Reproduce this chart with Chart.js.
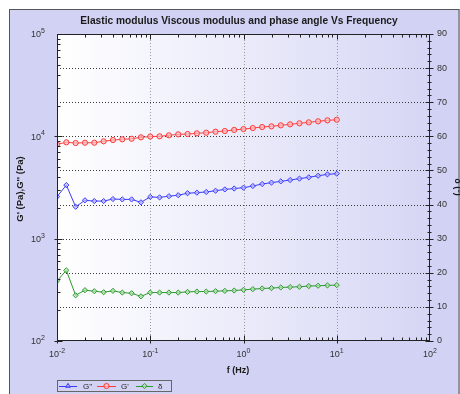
<!DOCTYPE html>
<html>
<head>
<meta charset="utf-8">
<script src="https://cdn.jsdelivr.net/npm/chart.js@4/dist/chart.umd.min.js"></script>
<style>
  html, body { margin: 0; padding: 0; background: #fff; overflow: hidden; }
  #wrap { position: relative; width: 460px; height: 394px; }
</style>
</head>
<body>
<div id="wrap"><canvas id="c" width="460" height="394"></canvas></div>
<script>
// Frequency sweep, 10 points per decade (Hz)
const frequency = [0.01, 0.01259, 0.01585, 0.01995, 0.02512, 0.03162, 0.03981, 0.05012, 0.0631, 0.07943,
  0.1, 0.1259, 0.1585, 0.1995, 0.2512, 0.3162, 0.3981, 0.5012, 0.631, 0.7943,
  1, 1.259, 1.585, 1.995, 2.512, 3.162, 3.981, 5.012, 6.31, 7.943, 10];

// Viscous (loss) modulus G'' (Pa)
const lossModulus = [2570, 3340, 2050, 2370, 2330, 2330, 2440, 2420, 2420, 2265,
  2560, 2530, 2600, 2660, 2780, 2815, 2860, 2940, 3030, 3090,
  3150, 3270, 3420, 3530, 3630, 3740, 3860, 3975, 4120, 4250, 4320];

// Elastic (storage) modulus G' (Pa)
const storageModulus = [8350, 8740, 8600, 8660, 8660, 8940, 9200, 9350, 9470, 9780,
  9950, 10000, 10230, 10460, 10530, 10700, 10850, 11100, 11270, 11550,
  11780, 12050, 12330, 12520, 12810, 13100, 13400, 13700, 14020, 14330, 14530];

// Phase angle δ (degrees)
const phaseAngle = [17.6, 20.7, 13.4, 14.9, 14.6, 14.3, 14.7, 14.2, 14.0, 13.1,
  14.2, 14.2, 14.2, 14.2, 14.4, 14.5, 14.5, 14.6, 14.7, 14.8,
  15.0, 15.2, 15.4, 15.5, 15.7, 15.8, 15.9, 16.1, 16.2, 16.3, 16.4];

const seriesLabels = ["G''", "G'", "δ"];
const xDecades = [0.01, 0.1, 1, 10, 100];
const yDecades = [100, 1000, 10000, 100000];
const phaseTicks = [0, 10, 20, 30, 40, 50, 60, 70, 80, 90];

const chartTitle = 'Elastic modulus Viscous modulus and phase angle Vs Frequency';
const xTitle = 'f (Hz)';
const yTitle = "G' (Pa),G'' (Pa)";
const y2Title = 'δ (°)';

const FONT = '"Liberation Sans", Arial, sans-serif';
const FRAME_FILL = '#d2d2f4';

function pts(ys) { return frequency.map((f, i) => ({ x: f, y: ys[i] })); }

const hidden = (dir) => ({
  display: true,
  ticks: { display: false },
  grid: { display: false, drawTicks: false },
  border: { display: false },
  afterFit: (s) => { if (dir === 'h') s.height = 0; else s.width = 0; }
});

// draws "10" with a raised exponent; align: 'right' | 'center'
function powerLabel(ctx, exp, x, y, align) {
  ctx.font = '9px ' + FONT;
  const base = '10';
  const bw = ctx.measureText(base).width;
  ctx.font = '7px ' + FONT;
  const e = String(exp);
  const ew = ctx.measureText(e).width;
  const total = bw + ew;
  const left = align === 'right' ? x - total : x - total / 2;
  ctx.textAlign = 'left';
  ctx.textBaseline = 'middle';
  ctx.font = '9px ' + FONT;
  ctx.fillText(base, left, y);
  ctx.font = '7px ' + FONT;
  ctx.fillText(e, left + bw, y - 4);
}

const decorPlugin = {
  id: 'decor',
  beforeDraw(chart) {
    const ctx = chart.ctx;
    const a = chart.chartArea;
    ctx.save();
    ctx.fillStyle = '#ffffff';
    ctx.fillRect(0, 0, chart.width, chart.height);
    // outer frame
    ctx.fillStyle = FRAME_FILL;
    ctx.fillRect(9, 9, 460, 400);
    ctx.strokeStyle = '#555';
    ctx.lineWidth = 1;
    ctx.strokeRect(9.5, 9.5, 449.5, 400);
    // plot area gradient
    const g = ctx.createLinearGradient(a.left, 0, a.right, 0);
    g.addColorStop(0, '#ffffff');
    g.addColorStop(1, '#d6d6f5');
    ctx.fillStyle = g;
    ctx.fillRect(a.left, a.top, a.right - a.left, a.bottom - a.top);
    ctx.restore();
  },
  beforeDatasetsDraw(chart) {
    const ctx = chart.ctx;
    const a = chart.chartArea;
    const sx = chart.scales.x, sy2 = chart.scales.y2;
    ctx.save();
    ctx.lineWidth = 1;
    ctx.setLineDash([1, 2]);
    ctx.strokeStyle = '#9a9a9a';
    xDecades.slice(1, -1).forEach(v => {
      const px = Math.round(sx.getPixelForValue(v)) + 0.5;
      ctx.beginPath(); ctx.moveTo(px, a.top); ctx.lineTo(px, a.bottom); ctx.stroke();
    });
    ctx.strokeStyle = '#3a3a3a';
    phaseTicks.slice(1, -1).forEach(v => {
      const py = Math.round(sy2.getPixelForValue(v)) + 0.5;
      ctx.beginPath(); ctx.moveTo(a.left, py); ctx.lineTo(a.right, py); ctx.stroke();
    });
    ctx.restore();
  },
  afterDatasetsDraw(chart) {
    const ctx = chart.ctx;
    const a = chart.chartArea;
    const sx = chart.scales.x, sy = chart.scales.y, sy2 = chart.scales.y2;
    const L = Math.round(a.left) + 0.5, R = Math.round(a.right) - 0.5;
    const T = Math.round(a.top) + 0.5, B = Math.round(a.bottom) - 0.5;
    ctx.save();
    ctx.setLineDash([]);
    ctx.strokeStyle = '#222';
    ctx.lineWidth = 1;
    ctx.strokeRect(L, T, R - L, B - T);

    ctx.beginPath();
    // x ticks (bottom and top, pointing inwards)
    for (let d = 0.01; d < 100; d *= 10) {
      for (let m = 1; m <= 9; m++) {
        const px = Math.round(sx.getPixelForValue(d * m)) + 0.5;
        const major = m === 1;
        ctx.moveTo(px, B + (major ? 3 : 0)); ctx.lineTo(px, B - (major ? 5 : 3));
        ctx.moveTo(px, T); ctx.lineTo(px, T + (major ? 5 : 3));
      }
    }
    // left log ticks
    for (let d = 100; d < 100000; d *= 10) {
      for (let m = 1; m <= 9; m++) {
        const py = Math.round(sy.getPixelForValue(d * m)) + 0.5;
        const major = m === 1;
        ctx.moveTo(L - (major ? 3 : 0), py); ctx.lineTo(L + (major ? 5 : 3), py);
      }
    }
    // right phase ticks
    for (let v = 0; v <= 90; v += 2) {
      const py = Math.round(sy2.getPixelForValue(v)) + 0.5;
      const major = v % 10 === 0;
      ctx.moveTo(R - (major ? 4 : 2), py); ctx.lineTo(R + (major ? 4 : 2), py);
    }
    ctx.stroke();

    // tick labels
    ctx.fillStyle = '#333';
    yDecades.forEach(v => {
      powerLabel(ctx, Math.round(Math.log10(v)), 45, sy.getPixelForValue(v) + 1, 'right');
    });
    xDecades.forEach(v => {
      powerLabel(ctx, Math.round(Math.log10(v)), sx.getPixelForValue(v), 355, 'center');
    });
    ctx.font = '9px ' + FONT;
    ctx.textAlign = 'left';
    ctx.textBaseline = 'middle';
    phaseTicks.forEach(v => {
      ctx.fillText(String(v), 437, sy2.getPixelForValue(v));
    });

    // titles
    ctx.fillStyle = '#1a1a1a';
    ctx.font = 'bold 10.2px ' + FONT;
    ctx.textAlign = 'center';
    ctx.fillText(chartTitle, 239, 21);
    ctx.font = 'bold 9px ' + FONT;
    ctx.fillText(xTitle, 238, 371);
    ctx.save();
    ctx.translate(20, 189);
    ctx.rotate(-Math.PI / 2);
    ctx.font = 'bold 9.5px ' + FONT;
    ctx.fillText(yTitle, 0, 0);
    ctx.restore();
    ctx.save();
    ctx.translate(457, 187);
    ctx.rotate(Math.PI / 2);
    ctx.fillText(y2Title, 0, 0);
    ctx.restore();

    // legend
    ctx.fillStyle = FRAME_FILL;
    ctx.fillRect(57.5, 380.5, 114, 11);
    ctx.strokeStyle = '#666';
    ctx.strokeRect(57.5, 380.5, 114, 11);
    const slots = [[59, 77, 83], [97, 116, 121], [136, 153, 158]];
    chart.data.datasets.forEach((ds, i) => {
      const [x0, x1, tx] = slots[i];
      const yy = 386.5;
      ctx.strokeStyle = ds.borderColor;
      ctx.lineWidth = 1;
      ctx.beginPath(); ctx.moveTo(x0, yy); ctx.lineTo(x1, yy); ctx.stroke();
      ctx.fillStyle = ds.backgroundColor;
      ctx.strokeStyle = ds.borderColor;
      Chart.helpers.drawPoint(ctx, {
        pointStyle: ds.legendMarker, radius: 2.6, borderWidth: 1, rotation: 0
      }, (x0 + x1) / 2, yy - 0.5);
      ctx.fillStyle = '#222';
      ctx.font = '8px ' + FONT;
      ctx.textAlign = 'left';
      ctx.textBaseline = 'middle';
      ctx.fillText(ds.label, tx, yy);
    });
    ctx.restore();
  }
};

const datasets = [
  { label: seriesLabels[0], data: pts(lossModulus), yAxisID: 'y',
    borderColor: '#3a3aff', backgroundColor: 'rgba(190,190,255,0.7)', pointStyle: 'rectRot', legendMarker: 'triangle' },
  { label: seriesLabels[1], data: pts(storageModulus), yAxisID: 'y',
    borderColor: '#ff3b3b', backgroundColor: 'rgba(255,190,190,0.7)', pointStyle: 'circle', legendMarker: 'circle' },
  { label: seriesLabels[2], data: pts(phaseAngle), yAxisID: 'y2',
    borderColor: '#2e9a2e', backgroundColor: 'rgba(180,230,180,0.7)', pointStyle: 'rectRot', legendMarker: 'rectRot' }
].map(d => Object.assign({
  borderWidth: 1, pointRadius: 2.6, pointBorderWidth: 1, tension: 0, fill: false
}, d));

new Chart(document.getElementById('c'), {
  type: 'line',
  data: { datasets },
  options: {
    responsive: false,
    animation: false,
    devicePixelRatio: 1,
    layout: { padding: { left: 57, right: 30, top: 34, bottom: 53 } },
    plugins: { legend: { display: false }, title: { display: false }, tooltip: { enabled: false } },
    scales: {
      x: Object.assign({ type: 'logarithmic', position: 'bottom', min: 0.01, max: 100 }, hidden('h')),
      y: Object.assign({ type: 'logarithmic', position: 'left', min: 100, max: 100000 }, hidden('v')),
      y2: Object.assign({ type: 'linear', position: 'right', min: 0, max: 90 }, hidden('v'))
    }
  },
  plugins: [decorPlugin]
});
</script>
</body>
</html>
